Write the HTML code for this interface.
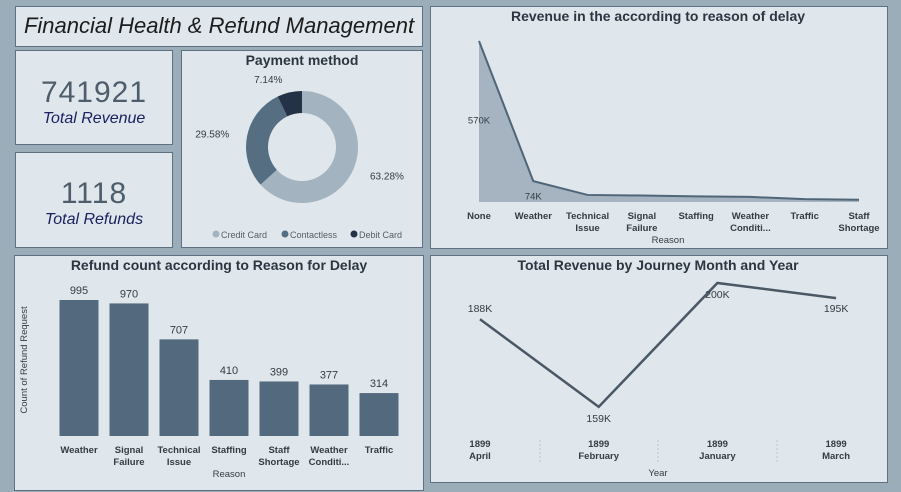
<!DOCTYPE html>
<html><head><meta charset="utf-8"><style>
body{margin:0;width:901px;height:492px;background:#9cadba;font-family:"Liberation Sans",sans-serif;position:relative;overflow:hidden}
.p{position:absolute;background:#dfe6ec;border:1.5px solid #5d7183;box-sizing:border-box}
svg{position:absolute;left:0;top:0}
</style></head><body>
<div class="p" style="left:15px;top:6px;width:408px;height:41px"><div style="font-style:italic;font-size:22px;color:#1c1c1c;text-align:center;line-height:38px">Financial Health &amp; Refund Management</div></div>
<div class="p" style="left:15px;top:50px;width:158px;height:95px"><div style="text-align:center;font-size:30px;color:#4d5d6b;margin-top:25px;letter-spacing:1px">741921</div><div style="text-align:center;font-size:16px;font-style:italic;color:#1a2260">Total Revenue</div></div>
<div class="p" style="left:15px;top:152px;width:158px;height:96px"><div style="text-align:center;font-size:30px;color:#4d5d6b;margin-top:24px;letter-spacing:1px">1118</div><div style="text-align:center;font-size:16px;font-style:italic;color:#1a2260">Total Refunds</div></div>
<div class="p" style="left:181px;top:50px;width:242px;height:198px"></div>
<div class="p" style="left:430px;top:6px;width:458px;height:243px"></div>
<div class="p" style="left:14px;top:255px;width:410px;height:236px"></div>
<div class="p" style="left:430px;top:255px;width:458px;height:228px"></div>
<svg id="s" width="901" height="492" font-family="Liberation Sans, sans-serif"></svg>
<script>
const payLabels=["Credit Card","Contactless","Debit Card"];
const payValues=[63.28,29.58,7.14];
const areaCats=["None","Weather","Technical|Issue","Signal|Failure","Staffing","Weather|Conditi...","Traffic","Staff|Shortage"];
const areaValues=[570,74,25,23,20,18,10,8];
const barCats=["Weather","Signal|Failure","Technical|Issue","Staffing","Staff|Shortage","Weather|Conditi...","Traffic"];
const barValues=[995,970,707,410,399,377,314];
const monthCats=["April","February","January","March"];
const monthValues=[188,159,200,195];
const NS="http://www.w3.org/2000/svg",S=document.getElementById('s');
function mk(t,a,txt){const e=document.createElementNS(NS,t);for(const k in a)e.setAttribute(k,a[k]);if(txt!=null)e.textContent=txt;S.appendChild(e);return e;}
function title(x,y,t){const e=mk('text',{x:x,y:y,'text-anchor':'middle','font-size':14,'font-weight':'bold',fill:'#2c3640'},t);}
function ml(x,y,s,size,w){s.split('|').forEach((l,i)=>{const e=mk('text',{x:x,y:y+i*12,'text-anchor':'middle','font-size':size||9.5,'font-weight':w||'bold',fill:'#333c44'},l);});}
// donut
title(302,65,"Payment method");
const cols=["#a3b3bf","#566e82","#233246"],cx=302,cy=147,R=56,r=34;
let tot=payValues.reduce((a,b)=>a+b,0),ang=-Math.PI/2;
payValues.forEach((v,i)=>{const a2=ang+v/tot*2*Math.PI,lg=(a2-ang)>Math.PI?1:0;
const p=`M${cx+R*Math.cos(ang)},${cy+R*Math.sin(ang)} A${R},${R} 0 ${lg} 1 ${cx+R*Math.cos(a2)},${cy+R*Math.sin(a2)} L${cx+r*Math.cos(a2)},${cy+r*Math.sin(a2)} A${r},${r} 0 ${lg} 0 ${cx+r*Math.cos(ang)},${cy+r*Math.sin(ang)}Z`;
const e=mk('path',{d:p,fill:cols[i]});
const m=(ang+a2)/2,lx=cx+(R+14)*Math.cos(m),ly=cy+(R+14)*Math.sin(m);
const t=mk('text',{x:lx+(Math.cos(m)>0?4:-4),y:ly+4,'text-anchor':Math.cos(m)>0?'start':'end','font-size':10,fill:'#333c44'},v.toFixed(2)+'%');
ang=a2;});
let lx=216;payLabels.forEach((l,i)=>{const c=mk('circle',{cx:lx,cy:234,r:3.5,fill:cols[i]});
const t=mk('text',{x:lx+5,y:238,'font-size':9,fill:'#555f68'},l);lx+=l.length*5+14;});
// area
title(658,21,"Revenue in the according to reason of delay");
const ax0=479,ax1=859,ab=202,aTop=41;
const axX=i=>ax0+i*(ax1-ax0)/(areaCats.length-1),ayY=v=>ab-v/570*(ab-aTop);
let pts=areaValues.map((v,i)=>axX(i)+','+ayY(v)).join(' ');
let ar=mk('polygon',{points:`${axX(0)},${ab} ${pts} ${axX(areaValues.length-1)},${ab}`,fill:'#a5b4c0'});
let al=mk('polyline',{points:pts,fill:'none',stroke:'#4f6578','stroke-width':2});
[[0,'570K'],[1,'74K']].forEach(([i,t])=>{const e=mk('text',{x:axX(i),y:ayY(areaValues[i]/2*(i?0.25:1))+(i?0:2),'text-anchor':'middle','font-size':9.5,fill:'#333c44'},t);});
areaCats.forEach((c,i)=>ml(axX(i),219,c));
ml(668,243,"Reason",9.5,'normal');
// bars
title(219,270,"Refund count according to Reason for Delay");
const bb=436,bh=136/995;
barCats.forEach((c,i)=>{const x=79+i*50,h=barValues[i]*bh;
const e=mk('rect',{x:x-19.5,y:bb-h,width:39,height:h,fill:'#536a7e'});
const t=mk('text',{x:x,y:bb-h-6,'text-anchor':'middle','font-size':11,fill:'#333c44'},barValues[i]);
ml(x,453,c);});
ml(229,477,"Reason",9.5,'normal');
const yl=mk('text',{x:27,y:360,'text-anchor':'middle','font-size':9.5,fill:'#333c44',transform:'rotate(-90 27 360)'},"Count of Refund Request");
// month line
title(658,270,"Total Revenue by Journey Month and Year");
const mX=i=>480+i*118.7,mY=v=>283+(200-v)*3.02;
let mp=mk('polyline',{points:monthValues.map((v,i)=>mX(i)+','+mY(v)).join(' '),fill:'none',stroke:'#4a5866','stroke-width':2.5});
const labOff=[-7,15,15,14];
monthValues.forEach((v,i)=>{const t=mk('text',{x:mX(i),y:mY(v)+labOff[i],'text-anchor':'middle','font-size':10.5,fill:'#333c44'},v+'K');
ml(mX(i),447,"1899|"+monthCats[i]);});
[540,658,777].forEach(x=>{const l=mk('line',{x1:x,y1:440,x2:x,y2:462,stroke:'#bbc6cf','stroke-dasharray':'2,2'});});
ml(658,476,"Year",9.5,'normal');
</script>
</body></html>
